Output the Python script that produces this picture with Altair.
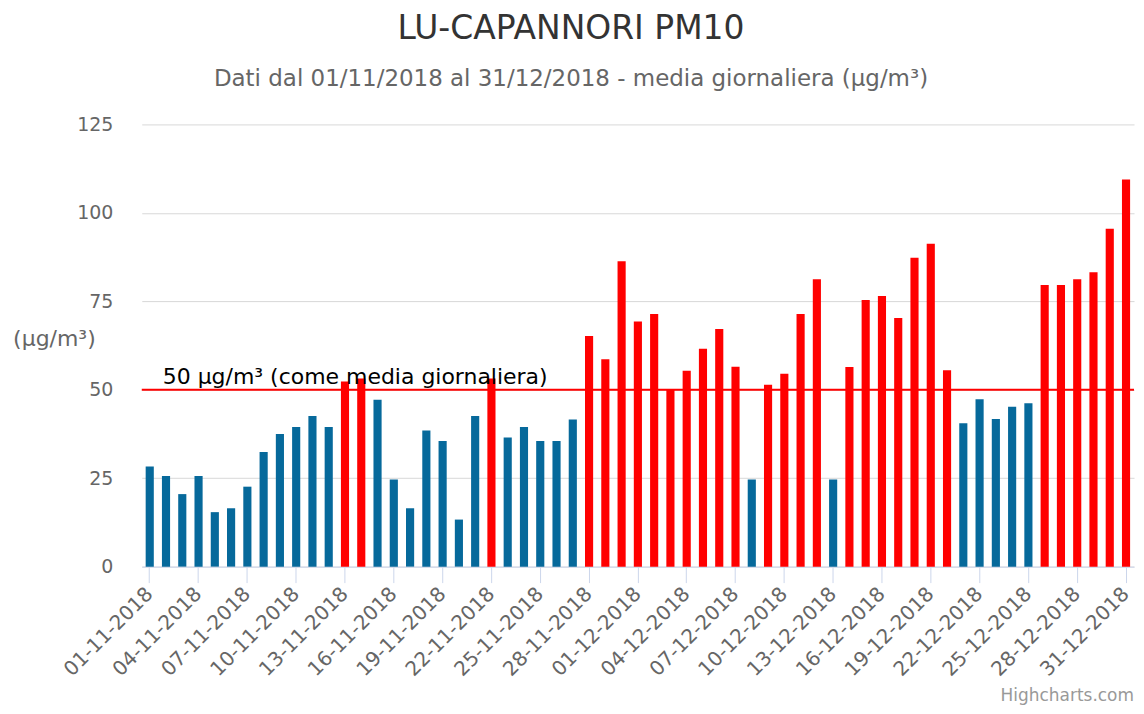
import altair as alt
import pandas as pd

# ---- data ----
nov_values = [28.3, 25.6, 20.5, 25.6, 15.4, 16.5, 22.6, 32.4, 37.5, 39.5,
              42.6, 39.5, 52.3, 53.2, 47.2, 24.6, 16.5, 38.5, 35.5, 13.3,
              42.6, 53.2, 36.5, 39.5, 35.5, 35.5, 41.6, 65.2, 58.6, 86.3]
dec_values = [69.3, 71.4, 50.1, 55.4, 61.6, 67.2, 56.5, 24.6, 51.4, 54.5,
              71.4, 81.2, 24.6, 56.4, 75.4, 76.5, 70.3, 87.3, 91.3, 55.5,
              40.5, 47.3, 41.7, 45.2, 46.2, 79.6, 79.6, 81.2, 83.2, 95.5, 109.4]
dates = pd.date_range("2018-11-01", "2018-12-31", freq="D")
date_labels = [d.strftime("%d-%m-%Y") for d in dates]
tick_labels = date_labels[::3]
y_ticks = [0, 25, 50, 75, 100, 125]
limit_value = 50

title_text = "LU-CAPANNORI PM10"
subtitle_text = "Dati dal 01/11/2018 al 31/12/2018 - media giornaliera (µg/m³)"
y_title = "(µg/m³)"
limit_label = "50 µg/m³ (come media giornaliera)"
credit_text = "Highcharts.com"

BLUE = "#06699b"
RED = "#ff0000"
FONT = "DejaVu Sans"

df = pd.DataFrame({"data": date_labels, "pm10": nov_values + dec_values})
limit_df = pd.DataFrame({"pm10": [limit_value], "t": [limit_label]})

x_enc = alt.X(
    "data:N", sort=None,
    scale=alt.Scale(paddingInner=0.5, paddingOuter=0.24),
    axis=alt.Axis(values=tick_labels, labelAngle=-45, labelAlign="right",
                  labelBaseline="middle", labelFontSize=20,
                  labelColor="#666666", labelFont=FONT, tickColor="#ccd6eb",
                  tickSize=16, domainColor="#ccd6eb", title=None, grid=False,
                  labelPadding=8),
)
y_enc = alt.Y(
    "pm10:Q",
    scale=alt.Scale(domain=[0, 125], nice=False),
    axis=alt.Axis(values=y_ticks, grid=True, gridColor="#d8d8d8", domain=False,
                  ticks=False, tickSize=0, labelFontSize=19, labelFont=FONT,
                  labelColor="#666666", labelPadding=29,
                  title=y_title, titleAngle=0, titleX=-88, titleY=214,
                  titleAlign="center", titleBaseline="middle", titleFontSize=22,
                  titleFont=FONT, titleFontWeight="normal", titleColor="#666666"),
)

bars = alt.Chart(df).mark_bar().encode(
    x=x_enc, y=y_enc,
    color=alt.when(alt.datum.pm10 >= limit_value).then(alt.value(RED)).otherwise(alt.value(BLUE)),
)

rule = alt.Chart(limit_df).mark_rule(color=RED, strokeWidth=2).encode(y="pm10:Q")

limit_text = alt.Chart(limit_df).mark_text(
    align="left", baseline="alphabetic", dy=-6, fontSize=22, font=FONT, color="#000000"
).encode(x=alt.value(21), y="pm10:Q", text="t:N")

title_df = pd.DataFrame({"t": [title_text]})
sub_df = pd.DataFrame({"t": [subtitle_text]})
credit_df = pd.DataFrame({"t": [credit_text]})

title_mark = alt.Chart(title_df).mark_text(
    align="center", baseline="middle", fontSize=33, font=FONT, color="#333333"
).encode(x=alt.value(430), y=alt.value(-96), text="t:N")
sub_mark = alt.Chart(sub_df).mark_text(
    align="center", baseline="middle", fontSize=23, font=FONT, color="#666666"
).encode(x=alt.value(430), y=alt.value(-45), text="t:N")
credit_mark = alt.Chart(credit_df).mark_text(
    align="right", baseline="alphabetic", fontSize=17, font=FONT, color="#999999"
).encode(x=alt.value(994), y=alt.value(578), text="t:N")

chart = alt.layer(bars, rule, limit_text, title_mark, sub_mark, credit_mark).properties(
    width=994, height=443,
    autosize=alt.AutoSizeParams(type="none"),
    padding={"left": 134, "top": 116, "right": 2, "bottom": 139},
).configure(background="white").configure_view(stroke=None)

chart.save("out.html", embed_options={"renderer": "svg", "actions": False})
